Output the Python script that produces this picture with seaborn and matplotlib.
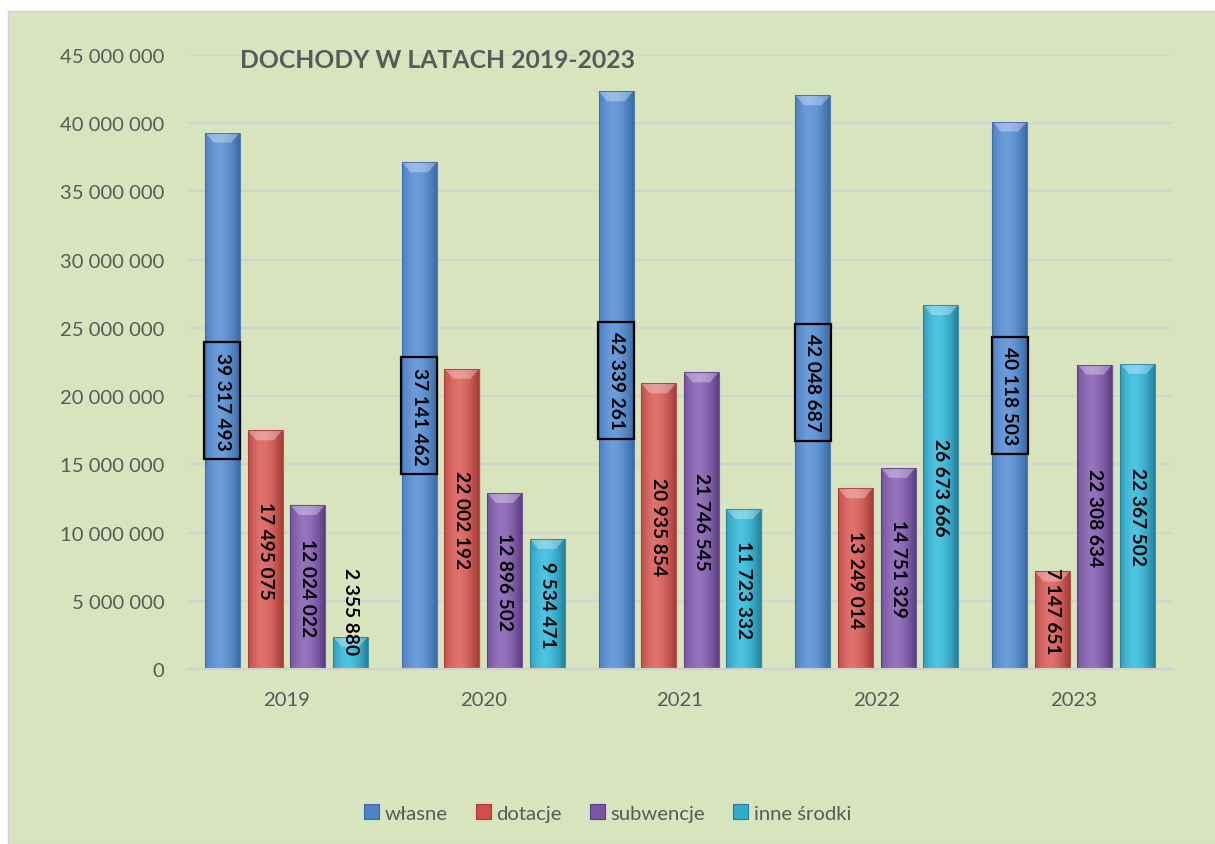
import numpy as np
import pandas as pd
import seaborn as sns
import matplotlib.pyplot as plt
from matplotlib.patches import Rectangle, Polygon
from matplotlib.colors import to_rgb

# data
lata = ["2019", "2020", "2021", "2022", "2023"]
wlasne = [39317493, 37141462, 42339261, 42048687, 40118503]
dotacje = [17495075, 22002192, 20935854, 13249014, 7147651]
subwencje = [12024022, 12896502, 21746545, 14751329, 22308634]
inne = [2355880, 9534471, 11723332, 26673666, 22367502]
serie = ["własne", "dotacje", "subwencje", "inne środki"]
y_ticks = [0, 5e6, 10e6, 15e6, 20e6, 25e6, 30e6, 35e6, 40e6, 45e6]

kolory = ["#4f83c8", "#cf4f4b", "#7b55a3", "#33aacb"]
jasne = ["#6b9ddc", "#e0716c", "#9574bd", "#4cc4e3"]
ciemne = ["#3a6aa8", "#a83a37", "#5c3d84", "#23819e"]

df = pd.DataFrame({
    "rok": lata * 4,
    "typ": sum([[s] * 5 for s in serie], []),
    "wartosc": wlasne + dotacje + subwencje + inne,
})

W, H = 1215, 845
fig = plt.figure(figsize=(W / 100, H / 100), dpi=100)
fig.patch.set_facecolor("white")
fig.patches.append(Rectangle((8 / W, 0), 1, 1 - 12 / H, transform=fig.transFigure,
                             facecolor="#d8e4bd", edgecolor="#d0d0d0", lw=1, zorder=-10))

plt.rcParams["font.family"] = ["Lato", "DejaVu Sans"]
szary = "#595959"

ax = fig.add_axes([188 / W, (H - 670) / H, 984 / W, 614 / H])
ax.set_facecolor("none")

sns.barplot(data=df, x="rok", y="wartosc", hue="typ", palette=kolory, hue_order=serie,
            width=0.867, gap=0.18, saturation=1, legend=False, ax=ax, zorder=2)

ax.set_ylim(0, 45e6)
ax.set_xlim(-0.5, 4.5)
ax.set_yticks(y_ticks)
ax.set_yticklabels([f"{int(v):,}".replace(",", " ") for v in y_ticks])
ax.yaxis.grid(True, color="#d3d3d3", lw=1.6, zorder=0)
ax.set_axisbelow(True)
for s in ["left", "right", "top"]:
    ax.spines[s].set_visible(False)
ax.spines["bottom"].set_color("#d0d0d0")
ax.spines["bottom"].set_linewidth(1.6)
ax.tick_params(axis="y", length=0, pad=17, labelsize=14.6, labelcolor=szary)
ax.tick_params(axis="x", length=0, pad=16, labelsize=14.6, labelcolor=szary)
ax.set_xlabel("")
ax.set_ylabel("")

px = 45e6 / 614  # data units per pixel (vertical)
prog = 4.3e6

for i, cont in enumerate(ax.containers):
    c_l = np.array(to_rgb(jasne[i]))
    c_d = np.array(to_rgb(ciemne[i]))
    t = np.linspace(0, 1, 64)
    d = np.clip(np.abs(t - 0.42) / 0.58, 0, 1) ** 1.6
    grad = (c_l[None, :] * (1 - d[:, None]) + c_d[None, :] * d[:, None])[None, :, :]
    for bar, v in zip(cont.patches, cont.datavalues):
        x0, w, h = bar.get_x(), bar.get_width(), bar.get_height()
        # soft shadow
        ax.add_patch(Rectangle((x0 + 0.006, 0), w, h, facecolor="#7a8a60", alpha=0.18,
                               lw=0, zorder=1.5))
        im = ax.imshow(grad, extent=[x0, x0 + w, 0, h], aspect="auto",
                       interpolation="bicubic", zorder=2.1)
        im.set_clip_path(bar)
        bh = 10 * px
        ax.add_patch(Polygon([(x0, h), (x0 + w, h), (x0 + 0.75 * w, h - bh),
                              (x0 + 0.25 * w, h - bh)], closed=True,
                             facecolor="white", alpha=0.32, lw=0, zorder=2.2))
        ax.add_patch(Rectangle((x0, 0), w, h, facecolor="none", edgecolor=ciemne[i],
                               lw=0.8, alpha=0.8, zorder=2.3))
        tekst = f"{int(v):,}".replace(",", " ")
        yy = max(v / 2, prog)
        kw = {}
        if i == 0:
            kw["bbox"] = dict(boxstyle="square,pad=0.5", facecolor="none",
                              edgecolor="black", lw=1.6)
        ax.text(x0 + w / 2, yy, tekst, rotation=270, ha="center", va="center",
                fontsize=13.8, fontweight="bold", color="black", zorder=5, **kw)

fig.text(240 / W, 1 - 61 / H, "DOCHODY W LATACH 2019-2023", fontsize=17.8,
         fontweight="bold", color=szary, ha="left", va="center")

uchwyty = [Rectangle((0, 0), 1, 1, facecolor=kolory[i], edgecolor=ciemne[i], lw=0.8)
           for i in range(4)]
leg = fig.legend(uchwyty, serie, loc="center", bbox_to_anchor=(0.5, 1 - 814 / H),
                 ncol=4, frameon=False, fontsize=14.6, handlelength=0.75, handleheight=0.75,
                 handletextpad=0.25, columnspacing=1.4)
for t in leg.get_texts():
    t.set_color(szary)

fig.savefig("out.png", dpi=100)
